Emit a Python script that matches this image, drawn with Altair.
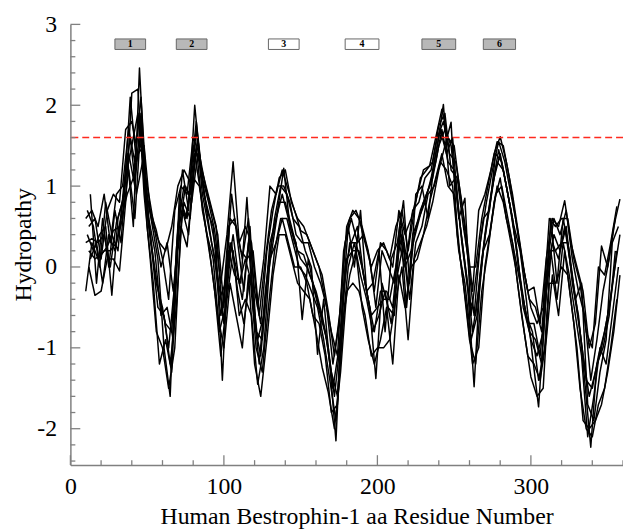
import altair as alt
import pandas as pd

# ---------------- data ----------------
# Hydropathy profiles (values every 4 residues; each series has its own start residue)
S1_START = 10
S1 = [0.6, 0.7, 0.5, 0.9, 0.3, 0.9, 1.0, 1.7, 1.3, 2.1, 0.85, 0.5, 0.3, 0.2, 0.5, 1.0, 1.2, 1.05,
      1.8, 1.1, 0.8, 0.45, -0.2, 0.4, 1.3, 0.3, 0.5, 0.3, -0.5, 0.1, 1.0, 0.9, 1.2, 0.95, 0.7, 0.45,
      0.4, 0.2, 0.0, -0.4, -0.8, -1.1, 0.2, 0.6, 0.7, 0.5, 0.2, -0.3, 0.3, 0.2, 0.0, 0.7, 0.4, 0.6,
      0.9, 1.2, 1.25, 1.6, 1.95, 1.6, 1.5, 0.9, 0.4, -0.3, 0.7, 0.9, 1.2, 1.55, 1.5, 1.1, 0.6, 0.1,
      -0.3, -0.25, -0.7, 0.1, 0.6, 0.5, 0.82, 0.3, 0.0, -0.3, -1.0, -0.7, 0.26, 0.0, 0.5, 0.84]

S2_START = 12
S2 = [0.0, -0.35, -0.3, 0.1, 0.1, -0.05, 0.8, 2.15, 2.2, 0.9, 0.1, -0.8, -1.0, -1.5, -1.0, 0.5,
      0.25, 1.1, 1.0, 0.5, 0.0, -0.6, -1.0, -0.2, -0.6, -1.0, -0.1, -1.2, -1.6, -0.9, -0.1, 0.4,
      0.4, 0.1, -0.2, -0.3, -0.4, -0.8, -1.24, -1.55, -2.0, -1.3, -0.3, -0.2, -0.3, -0.6, -1.1,
      -1.0, -1.0, -0.9, -0.4, 0.0, -0.9, 0.1, 0.3, 0.5, 0.8, 1.2, 1.5, 1.79, 0.4, -0.2, -0.9, -1.2,
      -0.3, 0.2, 0.8, 1.1, 0.6, 0.3, -0.3, -0.85, -1.36, -1.6, -1.5, -0.2, -0.2, 0.0, -0.1, -0.7,
      -1.5, -2.0, -2.1, -1.7, -1.5, -1.0, -0.4]

S3_START = 11
S3 = [0.4, 0.2, 0.4, 0.5, -0.35, 0.6, 0.9, 2.1, 1.3, 1.6, 0.6, 0.2, -0.6, -0.5, -0.9, 0.9, 0.6,
      1.0, 1.6, 0.9, 0.6, 0.2, -1.4, 0.2, -0.1, -0.2, 0.86, -0.4, -1.2, -0.3, 0.3, 0.7, 1.22, 0.5,
      0.3, -0.65, 0.1, -0.3, -0.6, -0.9, -1.5, -1.0, 0.0, 0.3, 0.5, -0.1, -0.5, -1.38, -0.2, -0.5,
      -0.6, 0.5, -0.5, 0.4, 0.6, 0.8, 1.1, 1.5, 2.01, 1.0, 1.1, 0.3, -0.3, -1.48, -0.1, 0.5, 1.0,
      1.45, 1.1, 0.7, 0.2, -0.5, -0.8, -0.9, -1.2, 0.0, 0.4, 0.2, 0.5, -0.2, -0.6, -1.4, -2.23,
      -1.2, -1.0, -0.6, 0.2]

S4_START = 13
S4 = [0.9, -0.2, 0.6, 0.0, 0.7, 0.3, 1.4, 0.5, 2.46, 1.0, 0.55, 0.1, -1.0, -1.6, 0.2, 1.2, 0.7,
      2.0, 1.2, 0.7, 0.5, -0.4, -0.2, 0.9, 0.3, -0.3, 0.5, -0.8, -0.9, 0.0, 0.6, 1.0, 0.9, 0.6,
      0.5, 0.2, 0.0, -1.08, -0.4, -1.2, -2.15, -0.5, 0.5, 0.0, 0.7, -0.3, -0.2, 0.2, -0.8, 0.1,
      0.3, 0.82, -0.2, 0.9, 1.0, 0.6, 1.3, 1.7, 1.4, 1.6, 0.6, 0.85, -0.6, 0.0, 0.6, 0.7, 1.4, 1.3,
      0.9, 0.5, 0.2, -0.4, -1.1, -1.73, -0.6, 0.6, -0.2, 0.6, 0.2, -0.4, -0.2, -1.7, -1.9, -1.3,
      -0.9, 0.3, 0.5]

S5_START = 10
S5 = [-0.3, 0.3, 0.1, 0.2, 0.2, 0.3, 0.6, 1.2, 0.6, 1.8, 0.5, -0.2, -1.2, -0.9, -1.3, 0.2, 0.8,
      0.6, 1.5, 0.7, 0.3, -0.3, -1.1, -0.4, 0.2, -0.6, -0.4, -0.6, -1.45, -1.0, 0.1, 0.3, 0.6, 0.3,
      0.0, 0.0, -0.2, -0.6, -0.7, -1.1, -1.8, -1.7, -0.6, -0.1, 0.2, -0.5, -0.9, -1.2, -0.9, -0.5,
      -1.2, -0.1, -0.5, 0.0, 0.1, 0.4, 0.8, 1.1, 1.4, 1.0, 0.9, 0.1, -0.5, -1.2, -1.0, 0.0, 0.5,
      1.0, 0.8, 0.4, 0.0, -0.6, -1.1, -1.2, -1.4, -0.9, -0.1, -0.6, 0.2, -0.4, -1.0, -1.9, -2.0,
      -1.9, -1.7, -1.3, -0.8, -0.1]

S6_START = 12
S6 = [0.5, 0.6, 0.1, 0.7, 0.9, 0.8, 1.7, 1.8, 1.4, 1.5, 0.7, 0.45, 0.1, -0.4, 0.7, 1.0, 0.9, 1.6,
      1.4, 1.0, 0.7, 0.4, -0.5, 0.6, 0.5, 0.1, 0.6, -0.3, -0.7, 0.2, 0.7, 1.1, 1.2, 0.8, 0.6, 0.5,
      0.3, 0.1, -0.1, -0.55, -1.1, -0.5, 0.5, 0.7, 0.6, 0.3, 0.0, 0.2, 0.3, 0.1, 0.5, 0.7, 0.2, 0.7,
      1.1, 1.2, 1.3, 1.75, 1.9, 1.2, 1.1, 0.5, 0.0, 0.0, 0.6, 1.0, 1.4, 1.61, 1.3, 0.9, 0.4, -0.1,
      -0.5, -0.7, -0.5, 0.6, 0.5, 0.6, 0.6, 0.1, -0.2, -0.8, -1.0, 0.0, -0.1, 0.3, 0.75]

S7_START = 11
S7 = [0.7, 0.5, 0.0, 0.8, 0.4, 0.2, 1.05, 1.6, 0.9, 1.3, 0.9, 0.45, 0.0, 0.3, -0.3, 0.5, 1.0,
      0.8, 1.4, 1.1, 0.8, 0.5, -0.6, 0.5, 0.6, 0.2, 0.1, 0.2, -0.6, 0.1, 0.7, 1.0, 1.0, 0.8, 0.4,
      0.3, 0.3, 0.0, -0.2, -0.5, -1.2, -0.7, 0.3, 0.6, 0.3, 0.4, 0.1, -0.5, 0.2, 0.0, -0.2, 0.6,
      0.1, 0.7, 0.8, 1.1, 1.2, 1.6, 1.8, 1.4, 1.3, 0.8, 0.1, -0.6, 0.3, 0.8, 1.2, 1.55, 1.3, 0.9,
      0.5, 0.0, -0.4, -0.5, -0.8, 0.1, 0.6, 0.4, 0.7, 0.1, -0.3, -0.6, -1.4, -0.9, -0.3, 0.1, 0.6]

S8_START = 13
S8 = [0.1, 0.3, -0.2, 0.4, 0.2, 0.6, 0.9, 1.1, 1.9, 0.8, 0.2, -0.5, -0.6, -1.2, -0.5, 0.7, 0.4,
      1.4, 0.9, 0.4, 0.1, -0.8, -0.5, 0.3, -0.3, -0.7, -0.1, -1.0, -1.3, -0.5, 0.2, 0.6, 0.6, 0.3,
      0.0, -0.1, -0.3, -0.5, -0.9, -1.4, -1.9, -0.8, 0.0, 0.3, -0.1, -0.4, -0.8, -0.6, -0.3, -0.7,
      -0.1, 0.3, -0.4, 0.3, 0.5, 0.9, 1.0, 1.3, 1.2, 1.0, 0.2, -0.2, -0.9, -0.6, 0.2, 0.4, 0.9, 1.0,
      0.6, 0.2, -0.2, -0.6, -0.8, -1.4, -1.0, 0.2, -0.4, 0.3, -0.1, -0.6, -1.1, -2.1, -1.6, -1.0,
      -1.2, -0.6, 0.0]

S9_START = 10
S9 = [0.3, 0.35, 0.3, 0.4, 0.0, 0.55, 0.8, 1.4, 1.0, 1.9, 0.7, 0.1, -0.4, -0.7, -0.8, 0.5, 1.0,
      0.9, 1.7, 0.9, 0.5, 0.1, -0.6, -0.1, 0.4, -0.2, 0.1, -0.2, -0.9, -0.6, 0.3, 0.6, 0.9, 0.6,
      0.3, 0.1, 0.0, -0.2, -0.5, -0.8, -1.3, -1.6, -0.3, 0.3, 0.3, 0.0, -0.4, -0.8, -0.3, -0.3,
      -0.5, 0.3, 0.0, 0.2, 0.5, 0.8, 1.0, 1.3, 1.7, 1.3, 1.2, 0.5, -0.1, -0.8, -0.3, 0.4, 0.9, 1.3,
      1.2, 0.8, 0.3, -0.3, -0.7, -0.7, -1.1, -0.3, 0.3, 0.1, 0.5, 0.0, -0.5, -1.1, -1.6, -1.3,
      -1.0, -0.6, -0.1, 0.4]

S10_START = 12
S10 = [0.2, 0.1, 0.15, 0.25, 0.45, 0.5, 1.1, 1.5, 1.9, 1.2, 0.4, -0.2, -0.5, -1.0, -0.2, 0.8, 0.6,
       1.5, 1.3, 0.8, 0.3, -0.1, -0.7, 0.3, 0.0, -0.4, 0.3, -0.7, -1.1, -0.2, 0.3, 0.8, 0.8, 0.5,
       0.2, 0.15, -0.1, -0.3, -0.6, -1.0, -1.6, -0.9, 0.1, 0.2, 0.2, -0.2, -0.6, -0.5, -0.4, -0.4,
       0.0, 0.4, -0.3, 0.4, 0.7, 0.9, 1.1, 1.5, 1.7, 1.5, 0.8, 0.2, -0.4, -0.6, 0.1, 0.6, 1.1, 1.4,
       1.0, 0.6, 0.0, -0.5, -0.9, -1.1, -0.8, 0.2, 0.2, 0.3, 0.3, -0.3, -0.8, -1.4, -1.5, -1.1,
       -0.8, -0.4, 0.2]

STEP = 4

# Threshold line
THRESHOLD = 1.6

# Transmembrane segment boxes
BOX_LABELS = ["1", "2", "3", "4", "5", "6"]
BOX_START = [29, 69, 129, 179, 229, 269]
BOX_END = [49, 89, 149, 201, 251, 290]
BOX_FILL = ["#b8b8b8", "#b8b8b8", "#ffffff", "#ffffff", "#b8b8b8", "#b8b8b8"]
BOX_LOW = 2.69
BOX_HIGH = 2.82
BOX_MID = 2.755

# Axis ticks
X_MAJOR = [0, 100, 200, 300]
X_MINOR = [20, 40, 60, 80, 120, 140, 160, 180, 220, 240, 260, 280, 320, 340, 360]
Y_MAJOR = [-2, -1, 0, 1, 2, 3]
Y_MINOR = [-2.4, -2.2, -1.8, -1.6, -1.4, -1.2, -0.8, -0.6, -0.4, -0.2, 0.2, 0.4, 0.6, 0.8,
           1.2, 1.4, 1.6, 1.8, 2.2, 2.4, 2.6, 2.8]

# ---------------- build tables ----------------
rows = []
for name, start, vals in [("s1", S1_START, S1), ("s2", S2_START, S2), ("s3", S3_START, S3),
                          ("s4", S4_START, S4), ("s5", S5_START, S5), ("s6", S6_START, S6),
                          ("s7", S7_START, S7), ("s8", S8_START, S8), ("s9", S9_START, S9),
                          ("s10", S10_START, S10)]:
    for i, v in enumerate(vals):
        rows.append({"x": start + STEP * i, "y": v, "series": name})
df = pd.DataFrame(rows)

boxes = pd.DataFrame({"x": BOX_START, "x2": BOX_END, "label": BOX_LABELS, "fill": BOX_FILL,
                      "xm": [(a + b) / 2 for a, b in zip(BOX_START, BOX_END)],
                      "y": BOX_LOW, "y2": BOX_HIGH, "ym": BOX_MID})

xt_major = pd.DataFrame({"x": X_MAJOR})
xt_minor = pd.DataFrame({"x": X_MINOR})
yt_major = pd.DataFrame({"y": Y_MAJOR})
yt_minor = pd.DataFrame({"y": Y_MINOR})
thr = pd.DataFrame({"y": [THRESHOLD]})

W, H = 558, 445
SERIF = "Liberation Serif"
GRAY = "#808080"

xscale = alt.Scale(domain=[0, 360], nice=False, zero=False)
yscale = alt.Scale(domain=[-2.45, 3], nice=False, zero=False)

XAXIS = alt.Axis(values=X_MAJOR, ticks=False, grid=False, labelPadding=10,
                 labelFont=SERIF, labelFontSize=24, labelColor="black", labelFlush=False,
                 labelExpr="'' + datum.value",
                 domainColor=GRAY, domainWidth=1.5,
                 title="Human Bestrophin-1 aa Residue Number", titleFont=SERIF,
                 titleFontSize=24, titleFontWeight="normal", titleColor="black",
                 titleBaseline="alphabetic", titleAlign="center", titleX=289, titleY=59)
YAXIS = alt.Axis(values=Y_MAJOR, ticks=False, grid=False, labelPadding=14,
                 labelFont=SERIF, labelFontSize=24, labelColor="black", labelFlush=False,
                 labelExpr="'' + datum.value",
                 domainColor=GRAY, domainWidth=1.5,
                 title="Hydropathy", titleFont=SERIF, titleFontSize=24,
                 titleFontWeight="normal", titleColor="black", titleAngle=270,
                 titleBaseline="alphabetic", titleAlign="center", titleX=-40, titleY=222)

X = alt.X("x:Q", scale=xscale, axis=XAXIS)
Y = alt.Y("y:Q", scale=yscale, axis=YAXIS)

lines = alt.Chart(df).mark_line(color="#000000", strokeWidth=1.5, strokeJoin="round", clip=True).encode(
    x=X, y=Y, detail="series:N")

threshold = alt.Chart(thr).mark_rule(color="#ff2a1f", strokeWidth=1.5, strokeDash=[7, 4]).encode(y=Y)

rects = alt.Chart(boxes).mark_rect(stroke="#666666", strokeWidth=1).encode(
    x=X, x2="x2:Q", y=Y, y2="y2:Q", fill=alt.Fill("fill:N", scale=None))

labels = alt.Chart(boxes).mark_text(font=SERIF, fontSize=10, fontWeight="bold", color="black",
                                    baseline="middle", align="center").encode(
    x=alt.X("xm:Q", scale=xscale, axis=XAXIS), y=alt.Y("ym:Q", scale=yscale, axis=YAXIS),
    text="label:N")

xmaj = alt.Chart(xt_major).mark_rule(color=GRAY, strokeWidth=1.3).encode(
    x=X, y=alt.value(H), y2=alt.value(H - 10))
xmin = alt.Chart(xt_minor).mark_rule(color=GRAY, strokeWidth=1.3).encode(
    x=X, y=alt.value(H), y2=alt.value(H - 5))
ymaj = alt.Chart(yt_major).mark_rule(color=GRAY, strokeWidth=1.3).encode(
    y=Y, x=alt.value(0), x2=alt.value(10))
ymin = alt.Chart(yt_minor).mark_rule(color=GRAY, strokeWidth=1.3).encode(
    y=Y, x=alt.value(0), x2=alt.value(5))

chart = alt.layer(lines, threshold, rects, labels, xmaj, xmin, ymaj, ymin).properties(
    width=W, height=H,
    autosize=alt.AutoSizeParams(type="none"),
    padding={"left": 63, "top": 14, "right": 0, "bottom": 64},
    background="white",
).configure_view(stroke=None).configure_axis(labelFont=SERIF, titleFont=SERIF)

chart.save("out.html", embed_options={"renderer": "svg", "actions": False})
